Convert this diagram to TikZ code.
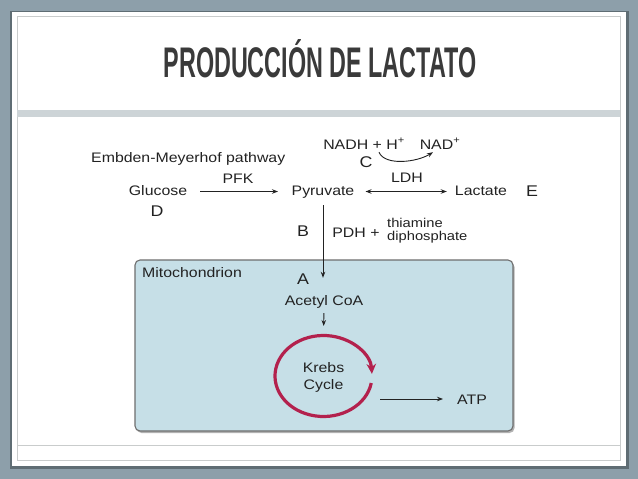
\documentclass[tikz,border=0pt]{standalone}
\usepackage{fontspec}
\setmainfont{Liberation Sans}
\newfontfamily\diagfont[FakeStretch=1.15]{Liberation Sans}
\usetikzlibrary{arrows.meta}
\definecolor{pagebg}{HTML}{8D9FAA}
\definecolor{cardshadow}{HTML}{5F6D74}
\definecolor{framegray}{HTML}{C9CCCC}
\definecolor{bandgray}{HTML}{CDD4D7}
\definecolor{titlegray}{HTML}{3A3A3A}
\definecolor{ink}{HTML}{222222}
\definecolor{mitofill}{HTML}{C6DFE7}
\definecolor{mitoline}{HTML}{6E6E6E}
\definecolor{krebsred}{HTML}{B3214D}
\begin{document}
\begin{tikzpicture}[x=1pt,y=-1pt,
  lbl/.style={font=\diagfont\fontsize{13.8}{15}\selectfont, text=ink, inner sep=0pt, text height=10pt, text depth=3pt},
  letter/.style={font=\diagfont\fontsize{15.5}{16}\selectfont, text=ink, inner sep=0pt},
  small/.style={font=\diagfont\fontsize{12.8}{11}\selectfont, text=ink, inner sep=0pt},
  arr/.style={-{Stealth[length=6pt,width=4.5pt]}, line width=0.9pt, draw=ink},
  dblarr/.style={{Stealth[length=6pt,width=4.5pt]}-{Stealth[length=6pt,width=4.5pt]}, line width=0.9pt, draw=ink},
  krebsarc/.style={-{Stealth[length=10pt,width=9.5pt]}, line width=3.2pt, draw=krebsred},
  mitobox/.style={rounded corners=5pt, fill=mitofill, draw=mitoline, line width=1.1pt}
]
\useasboundingbox (0,0) rectangle (638,479);
% slide background
\fill[pagebg] (0,0) rectangle (638,479);
\fill[cardshadow] (10,10.5) rectangle (628.5,469);
\fill[white] (12,12) rectangle (626,466);
\draw[framegray, line width=0.8pt] (17,16.5) rectangle (620,460.5);
\fill[bandgray] (17,109.5) rectangle (620,116.5);
\draw[framegray, line width=0.8pt] (17,445) -- (620,445);
% title
\node[anchor=base, text=titlegray, inner sep=0pt] (title) at (320,77)
  {\scalebox{0.556}[1.02]{\fontsize{42}{42}\selectfont\bfseries PRODUCCIÓN DE LACTATO}};
% mitochondrion box
\fill[gray!60, rounded corners=5pt] (136.5,262) rectangle (514.5,433);
\draw[mitobox] (135,260) rectangle (513,431);
% labels
\node[lbl, anchor=base west] (emb) at (91,162) {Embden-Meyerhof pathway};
\node[lbl, anchor=base] (pfk) at (238,183) {PFK};
\node[lbl, anchor=base] (glu) at (158,195) {Glucose};
\node[lbl, anchor=base] (pyr) at (323,195) {Pyruvate};
\node[lbl, anchor=base] (ldh) at (407,182) {LDH};
\node[lbl, anchor=base] (lac) at (481,195) {Lactate};
\node[letter, anchor=base] (E) at (532,196) {E};
\node[letter, anchor=base] (D) at (157,216) {D};
\node[lbl, anchor=base] (nadh) at (364,149) {NADH + H\textsuperscript{+}};
\node[lbl, anchor=base] (nad) at (440,149) {NAD\textsuperscript{+}};
\node[letter, anchor=base] (C) at (366,167) {C};
\node[letter, anchor=base] (B) at (303,236) {B};
\node[lbl, anchor=base] (pdh) at (356,237) {PDH +};
\node[small, anchor=base west] (thia) at (387,227) {thiamine};
\node[small, anchor=base west] (diph) at (387,240.5) {diphosphate};
\node[lbl, anchor=base west] (mito) at (142,277) {Mitochondrion};
\node[letter, anchor=base] (A) at (303,284) {A};
\node[lbl, anchor=base] (acoa) at (324,305) {Acetyl CoA};
\coordinate (kc) at (323.5,376);
\node[lbl, anchor=base] (krebs) at (323.5,372) {Krebs};
\node[lbl, anchor=base] (cycle) at (323.5,389) {Cycle};
\node[lbl, anchor=base west] (atp) at (457,404) {ATP};
% connectors
\draw[arr, shorten <=13pt, shorten >=13.5pt] (glu.east) -- (pyr.west);
\draw[dblarr, shorten <=11pt, shorten >=8pt] (pyr.east) -- (lac.west);
\draw[arr] ([xshift=15pt]nadh.south) .. controls +(6,14) and +(-16,10) .. ([xshift=-7pt]nad.south);
\draw[arr, shorten <=7pt, shorten >=17pt] (pyr.south) -- (pyr.south |- acoa.north);
\coordinate (ktop) at (323.5,335.5);
\draw[arr, shorten <=5pt, shorten >=9.5pt] (acoa.south) -- (ktop);
\draw[krebsarc] ([shift={(10:48.5 and 40.5)}]kc) arc[start angle=10, end angle=357, x radius=48.5, y radius=40.5];
\coordinate (atpfrom) at (380,399);
\draw[arr, shorten >=14pt] (atpfrom) -- (atpfrom -| atp.west);
\end{tikzpicture}
\end{document}
